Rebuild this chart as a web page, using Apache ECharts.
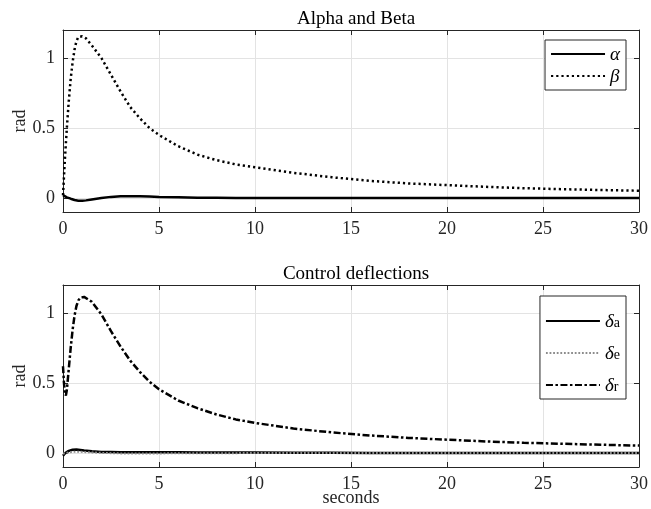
<!DOCTYPE html>
<html><head><meta charset="utf-8">
<script src="https://cdn.jsdelivr.net/npm/echarts@6/dist/echarts.min.js"></script>
<style>html,body{margin:0;padding:0;background:#fff}#c{width:651px;height:509px}</style>
</head><body><div id="c"></div>
<script>
// ---- data ----
const titles = ['Alpha and Beta', 'Control deflections'];
const yLabel = 'rad';
const xLabel = 'seconds';
const yTicks = [0, 0.5, 1];

const timeTop = [0,0.1,0.2,0.3,0.4,0.5,0.6,0.7,0.8,0.9,1.0,1.2,1.5,2,2.5,3,3.5,4,4.5,5,6,7,8,9,10,12,14,16,18,20,22,24,26,28,30];
const alpha   = [0.02,0.012,0.005,0,-0.005,-0.01,-0.014,-0.017,-0.019,-0.02,-0.02,-0.017,-0.01,0,0.008,0.012,0.013,0.012,0.01,0.008,0.005,0.002,0.001,0,0,0,0,0,0,0,0,0,0,0,0];
const beta    = [0.02,0.28,0.5,0.69,0.85,0.97,1.06,1.12,1.15,1.16,1.155,1.14,1.09,1.0,0.88,0.76,0.65,0.57,0.5,0.45,0.37,0.31,0.27,0.24,0.22,0.18,0.148,0.122,0.104,0.092,0.08,0.07,0.063,0.057,0.052];

const timeBottom = [0,0.05,0.1,0.15,0.2,0.3,0.4,0.5,0.6,0.7,0.8,0.9,1.0,1.1,1.2,1.5,2,2.5,3,3.5,4,4.5,5,6,7,8,9,10,12,14,16,18,20,22,24,26,28,30];
const deltaA = [-0.02,-0.01,-0.003,0.003,0.008,0.015,0.02,0.023,0.025,0.025,0.024,0.022,0.02,0.018,0.016,0.012,0.008,0.007,0.006,0.006,0.005,0.005,0.005,0.005,0.004,0.004,0.004,0.004,0.002,0.001,0,0,0,0,0,0,0,0];
const deltaE = [-0.005,-0.004,-0.003,-0.001,0,0.004,0.006,0.008,0.009,0.01,0.01,0.009,0.008,0.007,0.006,0.004,0.001,-0.001,-0.003,-0.004,-0.004,-0.003,-0.003,-0.002,-0.002,-0.001,-0.001,0,0,0,0,0,0,0,0,0,0,0];
const deltaR = [0.62,0.5,0.43,0.41,0.45,0.6,0.75,0.88,0.98,1.05,1.09,1.11,1.115,1.115,1.11,1.08,0.99,0.87,0.76,0.66,0.58,0.51,0.455,0.375,0.32,0.275,0.24,0.215,0.175,0.147,0.125,0.108,0.095,0.083,0.073,0.066,0.059,0.053];

// ---- chart ----
const FONT = 'Liberation Serif';
const AX = '#262626';
const pair = (t, v) => t.map((x, i) => [x, v[i]]);

const grids = [
  {left: 63, right: 12, top: 30, height: 182, outerBoundsMode: 'none', containLabel: false},
  {left: 63, right: 12, top: 285, height: 182, outerBoundsMode: 'none', containLabel: false}
];

function xAx(gi, mirror, name) {
  return {
    type: 'value', gridIndex: gi, min: 0, max: 30, interval: 5,
    position: mirror ? 'top' : 'bottom',
    name: name || '', nameLocation: 'middle', nameGap: 22, nameMoveOverlap: false,
    nameTextStyle: {fontFamily: FONT, fontSize: 18, color: AX},
    axisLine: {show: true, onZero: false, lineStyle: {color: AX, width: 1}},
    axisTick: {show: true, inside: true, length: 5, lineStyle: {color: AX}},
    axisLabel: {show: !mirror, fontFamily: FONT, fontSize: 18, color: AX, margin: 8},
    splitLine: {show: !mirror, lineStyle: {color: '#e3e3e3', width: 1}}
  };
}
function yAx(gi, mirror) {
  return {
    type: 'value', gridIndex: gi, min: -0.1, max: 1.2,
    position: mirror ? 'right' : 'left',
    name: mirror ? '' : yLabel, nameLocation: 'middle', nameGap: 34, nameMoveOverlap: false,
    nameTextStyle: {fontFamily: FONT, fontSize: 18, color: AX},
    axisLine: {show: true, onZero: false, lineStyle: {color: AX, width: 1}},
    axisTick: {show: true, inside: true, length: 5, customValues: yTicks, lineStyle: {color: AX}},
    axisLabel: {show: !mirror, customValues: yTicks, fontFamily: FONT, fontSize: 18, color: AX, margin: 8,
      formatter: v => String(v)},
    splitLine: {show: !mirror, lineStyle: {color: '#e3e3e3', width: 1}}
  };
}

const richStyles = {
  g: {fontFamily: FONT, fontStyle: 'italic', fontSize: 19, color: '#000', lineHeight: 18, verticalAlign: 'top'},
  s: {fontFamily: FONT, fontSize: 14, color: '#000', lineHeight: 14, verticalAlign: 'bottom', padding: [15, 0, 0, 0]}
};
const legendText = {
  'α': '{g|α}', 'β': '{g|β}',
  'δa': '{g|δ}{s|a}', 'δe': '{g|δ}{s|e}', 'δr': '{g|δ}{s|r}'
};

function legend(names, top, gap) {
  return {
    data: names, orient: 'vertical', right: 25, top: top,
    borderColor: AX, borderWidth: 1, borderRadius: 0, padding: [5, 6, 4, 5],
    itemWidth: 54, itemHeight: 14, itemGap: gap,
    backgroundColor: '#fff',
    itemStyle: {color: 'rgba(0,0,0,0)', borderWidth: 0, opacity: 0},
    formatter: n => legendText[n],
    textStyle: {rich: richStyles}
  };
}

function line(name, xi, yi, data, color, width, type) {
  return {
    name, type: 'line', xAxisIndex: xi, yAxisIndex: yi, data,
    symbol: 'none', showSymbol: false, smooth: false, animation: false,
    lineStyle: {color, width, type, cap: 'butt'},
    itemStyle: {color}
  };
}

const option = {
  backgroundColor: '#fff',
  animation: false,
  title: [
    {text: titles[0], left: 351, top: 5, textAlign: 'center',
      textStyle: {fontFamily: FONT, fontSize: 19, fontWeight: 'normal', color: '#000'}},
    {text: titles[1], left: 351, top: 260, textAlign: 'center',
      textStyle: {fontFamily: FONT, fontSize: 19, fontWeight: 'normal', color: '#000'}}
  ],
  grid: grids,
  xAxis: [xAx(0, false), xAx(0, true), xAx(1, false, xLabel), xAx(1, true)],
  yAxis: [yAx(0, false), yAx(0, true), yAx(1, false), yAx(1, true)],
  legend: [legend(['α', 'β'], 40, 3), legend(['δa', 'δe', 'δr'], 296, 2)],
  series: [
    line('α', 0, 0, pair(timeTop, alpha), '#000', 2.5, 'solid'),
    line('β', 0, 0, pair(timeTop, beta), '#000', 2.5, [2.2, 3]),
    line('δa', 2, 2, pair(timeBottom, deltaA), '#000', 2.5, 'solid'),
    line('δe', 2, 2, pair(timeBottom, deltaE), '#8c8c8c', 2, [1.8, 1.8]),
    line('δr', 2, 2, pair(timeBottom, deltaR), '#000', 2.5, [7, 2.5, 2.5, 2.5])
  ]
};

const chart = echarts.init(document.getElementById('c'), null, {renderer: 'canvas'});
chart.setOption(option);
</script>
</body></html>
